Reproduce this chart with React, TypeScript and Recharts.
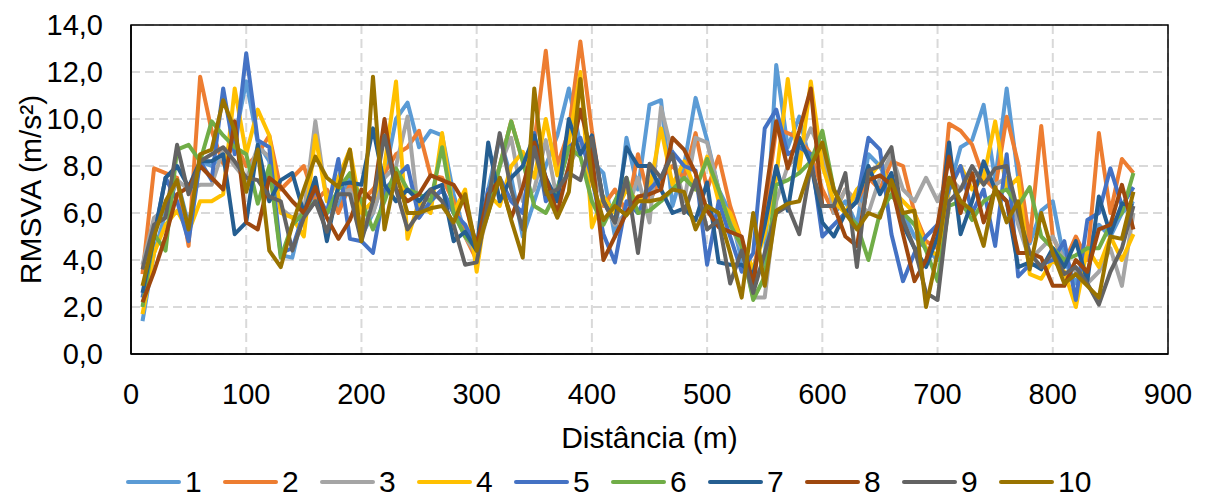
import React from "react";
import {
  LineChart,
  Line,
  XAxis,
  YAxis,
  CartesianGrid,
  Legend,
  ReferenceArea,
  Label,
} from "recharts";

// distance in metres, one reading every 10 m
const distances = [
  10, 20, 30, 40, 50, 60, 70, 80, 90, 100,
  110, 120, 130, 140, 150, 160, 170, 180, 190, 200,
  210, 220, 230, 240, 250, 260, 270, 280, 290, 300,
  310, 320, 330, 340, 350, 360, 370, 380, 390, 400,
  410, 420, 430, 440, 450, 460, 470, 480, 490, 500,
  510, 520, 530, 540, 550, 560, 570, 580, 590, 600,
  610, 620, 630, 640, 650, 660, 670, 680, 690, 700,
  710, 720, 730, 740, 750, 760, 770, 780, 790, 800,
  810, 820, 830, 840, 850, 860, 870,
];

const run1 = [
  1.4, 4.3, 6.0, 7.4, 5.5, 8.2, 8.0, 8.5, 9.1, 11.6,
  9.0, 8.2, 4.2, 4.1, 6.2, 6.8, 6.0, 6.3, 7.5, 5.0,
  6.0, 7.5, 10.0, 10.7, 8.8, 9.5, 9.3, 6.8, 5.1, 4.5,
  7.0, 9.2, 7.5, 5.0, 6.5, 8.0, 9.3, 11.3, 8.9, 8.2,
  7.7, 5.0, 9.2, 7.0, 10.6, 10.8, 6.3, 8.0, 10.9, 9.1,
  7.0, 6.0, 4.0, 3.0, 4.0, 12.3, 8.8, 10.1, 8.0, 9.0,
  6.0, 6.5, 5.5, 8.5, 8.0, 7.0, 6.0, 5.0, 4.5, 4.0,
  7.0, 8.8, 9.1, 10.6, 7.4, 11.3, 7.5, 4.7, 6.1, 6.5,
  4.0, 3.0, 4.5, 5.5, 5.0, 6.0, 6.5,
];
const run2 = [
  3.4, 7.9, 7.7, 7.5, 4.6, 11.8, 9.5, 8.1, 9.0, 8.0,
  8.5, 9.3, 7.0, 7.5, 8.0, 6.5, 7.0, 6.0, 7.2, 6.5,
  7.0, 7.7, 8.5, 8.8, 9.5, 7.6, 7.5, 6.5, 5.0, 4.0,
  6.5, 8.0, 9.9, 8.2, 9.0, 12.9, 8.0, 9.5, 13.3, 9.5,
  6.3, 7.0, 6.0, 8.5, 6.5, 7.5, 8.0, 7.5, 9.4, 7.0,
  8.4, 6.3, 4.8, 3.5, 6.0, 9.6, 9.4, 9.2, 8.5, 7.0,
  6.0, 7.0, 6.5, 7.5, 7.0, 8.2, 8.0, 6.0, 4.8, 4.5,
  9.8, 9.5, 8.9, 7.5, 7.0, 10.1, 8.1, 4.8, 9.7, 5.0,
  3.9, 5.0, 4.0, 9.4, 6.0, 8.3, 7.7,
];
const run3 = [
  3.8, 5.8, 6.2, 7.4, 7.0, 7.2, 7.2, 8.7, 8.0, 7.4,
  8.8, 8.4, 6.2, 5.8, 6.0, 9.9, 6.5, 6.8, 7.0, 5.5,
  6.0, 7.5, 8.0, 10.1, 5.8, 6.5, 7.0, 6.0, 5.0, 4.2,
  6.0, 8.0, 9.2, 6.5, 7.0, 9.1, 6.5, 8.0, 9.0, 8.0,
  6.5, 5.5, 6.0, 7.5, 5.6, 10.5, 8.5, 6.5, 9.2, 9.0,
  7.0, 5.5, 4.5, 2.4, 2.4, 6.5, 8.0, 8.5, 9.6, 8.5,
  6.0, 7.0, 6.5, 6.0, 7.5, 8.5, 7.0, 6.5, 7.5, 6.5,
  7.5, 7.0, 7.5, 7.8, 7.2, 7.5, 5.5, 4.0, 4.5, 5.0,
  4.0, 3.5, 3.0, 3.5, 4.5, 2.9, 6.0,
];
const run4 = [
  1.7, 4.3, 5.5, 6.1, 5.2, 6.5, 6.5, 6.8, 11.3, 8.5,
  10.4, 9.3, 6.0, 5.8, 5.0, 9.3, 6.5, 7.5, 8.7, 6.0,
  6.5, 8.0, 11.6, 4.9, 6.5, 6.0, 9.4, 6.0, 7.0, 3.5,
  6.8, 6.3, 8.0, 8.6, 7.5, 10.0, 7.6, 9.0, 12.0, 5.4,
  6.7, 6.0, 7.0, 6.5, 7.0, 9.6, 7.2, 8.2, 7.0, 8.4,
  6.5, 6.0, 4.8, 3.6, 5.1, 7.5, 11.7, 7.8, 11.6, 8.0,
  6.5, 6.0, 7.0, 7.5, 8.1, 7.0, 6.5, 6.0, 4.5, 4.2,
  7.0, 8.0, 7.0, 7.5, 9.9, 7.0, 7.5, 3.4, 3.2, 4.0,
  3.5, 2.0, 4.5, 3.7, 5.0, 4.0, 5.1,
];
const run5 = [
  2.4, 5.0, 7.5, 6.5, 4.8, 8.2, 7.4, 11.3, 8.5, 12.8,
  9.1, 8.8, 4.3, 4.5, 6.0, 7.0, 6.0, 8.3, 4.9, 4.8,
  4.3, 7.0, 7.5, 8.0, 5.8, 6.5, 7.0, 6.0, 5.5, 4.5,
  7.0, 7.5, 6.5, 6.0, 9.4, 6.5, 7.0, 8.8, 9.2, 7.5,
  5.1, 3.9, 6.5, 6.0, 7.0, 7.5, 8.6, 8.0, 7.8, 3.8,
  6.5, 5.0, 3.5, 4.3, 9.6, 10.4, 8.5, 8.8, 8.5, 5.0,
  5.5, 6.0, 6.5, 9.2, 8.7, 5.1, 3.1, 4.3, 5.0, 5.5,
  7.0, 8.0, 6.0, 7.0, 4.6, 8.5, 3.3, 3.8, 3.8, 4.0,
  4.8, 2.3, 5.7, 6.0, 7.9, 6.3, 7.1,
];
const run6 = [
  2.0, 5.1, 4.4, 8.7, 8.9, 8.2, 9.9, 9.3, 8.8, 8.5,
  6.4, 8.0, 4.1, 5.5, 6.0, 6.5, 6.0, 7.0, 7.7, 6.5,
  5.3, 6.5, 7.9, 7.0, 6.8, 6.5, 8.8, 6.0, 5.0, 4.5,
  6.0, 8.0, 9.9, 8.2, 6.3, 6.0, 7.0, 8.8, 8.4, 6.5,
  5.5, 6.5, 7.5, 6.0, 6.1, 6.5, 7.0, 7.5, 7.0, 8.3,
  7.0, 5.5, 4.6, 2.3, 3.3, 7.2, 7.4, 7.7, 8.2, 9.5,
  7.0, 6.0, 5.5, 4.0, 6.0, 6.8, 6.0, 5.5, 4.4, 3.1,
  6.3, 6.5, 5.7, 6.5, 6.8, 7.0, 6.3, 7.1, 5.0, 4.5,
  4.0, 4.2, 4.5, 4.5, 5.5, 6.0, 7.7,
];
const run7 = [
  2.6, 5.0, 7.5, 8.0, 7.1, 8.2, 8.2, 8.5, 5.1, 5.6,
  8.9, 6.5, 7.4, 7.7, 6.0, 7.5, 4.8, 7.2, 7.3, 7.2,
  9.6, 7.2, 6.5, 7.0, 6.5, 7.0, 7.2, 4.8, 5.2, 4.4,
  9.0, 6.5, 7.5, 8.0, 9.3, 7.5, 6.5, 10.0, 8.5, 9.3,
  6.5, 5.6, 8.8, 8.0, 8.0, 7.0, 6.0, 6.2, 5.7, 7.3,
  3.9, 3.8, 3.8, 3.4, 5.5, 8.0, 6.1, 9.2, 8.1, 5.6,
  5.0, 6.0, 6.5, 8.0, 6.8, 7.7, 5.5, 4.5, 3.7, 5.0,
  9.0, 5.1, 6.5, 8.2, 7.0, 6.5, 3.7, 3.9, 3.6, 4.5,
  3.7, 4.8, 3.1, 6.7, 5.1, 6.4, 6.3,
];
const run8 = [
  2.2, 3.5, 5.0, 6.8, 7.1, 8.0, 7.5, 7.0, 9.9, 5.6,
  5.3, 7.5, 7.1, 6.5, 6.0, 7.1, 5.8, 4.9, 5.7, 7.0,
  6.5, 10.0, 7.0, 6.5, 6.8, 7.6, 7.4, 7.2, 6.4, 4.6,
  6.8, 7.4, 5.8, 7.1, 9.0, 7.5, 6.0, 8.0, 10.4, 8.5,
  4.0, 5.0, 6.0, 6.7, 6.8, 7.0, 9.2, 8.7, 7.7, 6.1,
  5.4, 5.2, 5.0, 2.9, 6.5, 9.9, 7.9, 9.5, 11.3, 6.3,
  6.3, 5.0, 4.6, 7.4, 7.6, 7.2, 5.1, 3.1, 4.0, 5.5,
  8.4, 6.0, 7.7, 5.6, 7.0, 6.5, 4.3, 4.3, 4.1, 2.9,
  2.9, 4.0, 3.5, 5.3, 5.5, 7.2, 5.3,
];
const run9 = [
  3.6, 5.5, 5.8, 8.9, 6.8, 8.2, 8.5, 8.8, 8.2, 7.5,
  7.4, 6.7, 6.5, 4.4, 5.8, 6.5, 5.2, 6.8, 6.8, 4.8,
  6.5, 9.3, 7.0, 5.3, 6.0, 7.0, 6.5, 5.5, 3.8, 3.9,
  6.5, 9.4, 7.0, 5.3, 8.8, 6.8, 7.0, 7.7, 7.4, 9.2,
  6.5, 5.6, 7.5, 4.3, 8.1, 7.5, 8.5, 6.0, 7.4, 5.3,
  5.7, 3.0, 4.4, 2.6, 4.3, 6.0, 6.3, 5.1, 8.0, 6.3,
  6.3, 7.7, 3.7, 7.8, 8.0, 8.8, 5.7, 4.5, 2.6, 2.3,
  6.5, 7.0, 8.0, 7.2, 7.9, 8.0, 6.0, 4.3, 3.7, 4.3,
  3.4, 3.7, 3.0, 2.1, 3.5, 4.5, 6.3,
];
const run10 = [
  2.9, 5.0, 6.5, 7.4, 5.3, 8.5, 8.7, 10.8, 9.5, 6.9,
  8.7, 4.4, 3.7, 5.5, 7.0, 8.4, 7.5, 7.1, 8.7, 4.8,
  11.8, 5.3, 7.7, 6.0, 6.0, 6.2, 6.3, 5.6, 6.8, 4.4,
  6.0, 7.5, 5.7, 4.1, 11.3, 7.0, 5.8, 6.9, 11.7, 7.4,
  5.7, 6.3, 5.9, 6.5, 6.5, 6.6, 7.0, 6.9, 5.3, 6.3,
  6.0, 4.3, 2.4, 6.0, 2.9, 6.1, 6.4, 6.5, 8.0, 9.0,
  7.0, 6.0, 5.3, 6.0, 5.8, 7.4, 6.0, 6.1, 2.0, 4.3,
  7.5, 6.5, 6.1, 4.6, 7.1, 5.6, 6.5, 3.6, 6.0, 4.3,
  3.0, 3.4, 2.9, 2.4, 5.0, 4.9, 6.9,
];

const seriesNames = ["1", "2", "3", "4", "5", "6", "7", "8", "9", "10"];
const seriesValues = [run1, run2, run3, run4, run5, run6, run7, run8, run9, run10];
const COLORS = [
  "#5B9BD5", "#ED7D31", "#A5A5A5", "#FFC000", "#4472C4",
  "#70AD47", "#255E91", "#9E480E", "#636363", "#997300",
];

const xTicks = [0, 100, 200, 300, 400, 500, 600, 700, 800, 900];
const yTicks = [0, 2, 4, 6, 8, 10, 12, 14];

const data = distances.map((d, i) => {
  const row: Record<string, number> = { d };
  seriesNames.forEach((name, s) => {
    row[name] = seriesValues[s][i];
  });
  return row;
});

const FONT = '"Liberation Sans", Arial, sans-serif';
const fmt = (v: number) => v.toFixed(1).replace(".", ",");

const LegendContent = () => (
  <div style={{ display: "flex", paddingLeft: 126, fontFamily: FONT, fontSize: 30, color: "#000" }}>
    {seriesNames.map((name, i) => (
      <div key={name} style={{ width: 97, display: "flex", alignItems: "center", height: 32 }}>
        <svg width={55} height={8} style={{ display: "block" }}>
          <line x1={2} y1={4} x2={53} y2={4} stroke={COLORS[i]} strokeWidth={4} strokeLinecap="round" />
        </svg>
        <span style={{ marginLeft: 4, lineHeight: "32px" }}>{name}</span>
      </div>
    ))}
  </div>
);

export default function App() {
  return (
    <div style={{ position: "absolute", left: 0, top: 0 }}>
      <LineChart
        width={1206}
        height={498}
        data={data}
        margin={{ top: 25, right: 38, bottom: 44, left: 0 }}
      >
        <CartesianGrid stroke="#D9D9D9" strokeWidth={2} strokeDasharray="9 5" />
        <XAxis
          dataKey="d"
          type="number"
          domain={[0, 900]}
          ticks={xTicks}
          height={100}
          tickLine={false}
          tickSize={0}
          tickMargin={29}
          axisLine={{ stroke: "#000", strokeWidth: 1.5 }}
          tick={{ fill: "#000", fontSize: 29, fontFamily: FONT }}
        >
          <Label
            value="Distância (m)"
            position="insideBottom"
            offset={6}
            style={{ fill: "#000", fontSize: 30, fontFamily: FONT }}
          />
        </XAxis>
        <YAxis
          type="number"
          domain={[0, 14]}
          ticks={yTicks}
          width={131}
          tickLine={false}
          tickSize={0}
          tickMargin={28}
          tickFormatter={fmt}
          axisLine={{ stroke: "#000", strokeWidth: 1.5 }}
          tick={{ fill: "#000", fontSize: 29, fontFamily: FONT }}
        >
          <Label
            content={({ viewBox }: any) => {
              const cy = viewBox.y + viewBox.height / 2;
              return (
                <text
                  x={30}
                  y={cy}
                  transform={`rotate(-90, 30, ${cy})`}
                  textAnchor="middle"
                  dominantBaseline="central"
                  style={{ fill: "#000", fontSize: 30, fontFamily: FONT }}
                >
                  RMSVA (m/s²)
                </text>
              );
            }}
          />
        </YAxis>
        {seriesNames.map((name, i) => (
          <Line
            key={name}
            type="linear"
            dataKey={name}
            stroke={COLORS[i]}
            strokeWidth={4}
            strokeLinejoin="round"
            dot={false}
            activeDot={false}
            isAnimationActive={false}
          />
        ))}
        <ReferenceArea x1={0} x2={900} y1={0} y2={14} fill="none" stroke="#000" strokeWidth={1.5} />
        <Legend
          layout="horizontal"
          verticalAlign="middle"
          align="center"
          content={<LegendContent />}
          wrapperStyle={{ top: 466, left: 0, width: 1206, height: 32 }}
        />
      </LineChart>
    </div>
  );
}
